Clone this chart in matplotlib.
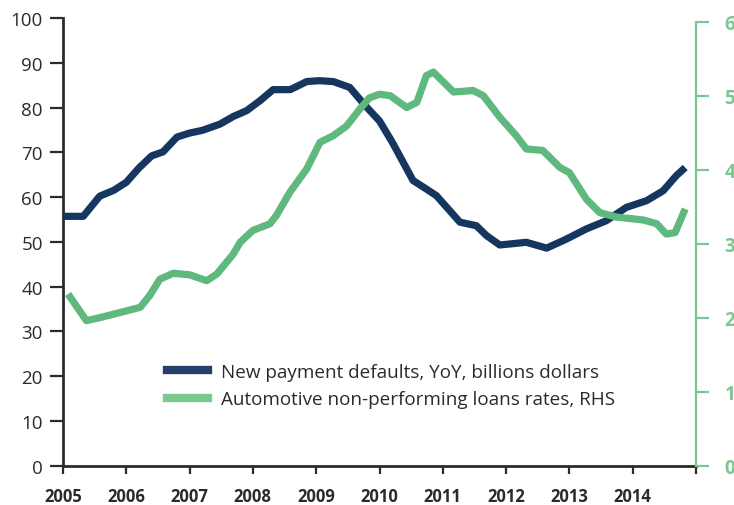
import matplotlib
matplotlib.use("Agg")
import matplotlib.pyplot as plt
from matplotlib.lines import Line2D

plt.rcParams['font.family'] = ['Open Sans', 'DejaVu Sans']

# ---- data ----
navy_x = [2005.00, 2005.32, 2005.58, 2005.80, 2006.00, 2006.20, 2006.40, 2006.58, 2006.80,
          2007.00, 2007.20, 2007.48, 2007.69, 2007.90, 2008.11, 2008.32, 2008.59, 2008.85,
          2009.05, 2009.27, 2009.53, 2009.77, 2010.00, 2010.20, 2010.53, 2010.74, 2010.90,
          2011.27, 2011.53, 2011.69, 2011.90, 2012.32, 2012.64, 2012.95, 2013.27, 2013.58,
          2013.90, 2014.22, 2014.48, 2014.69, 2014.83]
navy_y = [55.7, 55.7, 60.2, 61.5, 63.3, 66.5, 69.2, 70.1, 73.4,
          74.3, 74.9, 76.3, 78.0, 79.3, 81.5, 84.0, 84.0, 85.8,
          86.0, 85.8, 84.5, 80.5, 77.0, 72.3, 63.7, 61.8, 60.3,
          54.4, 53.6, 51.4, 49.3, 49.9, 48.6, 50.6, 52.9, 54.7,
          57.7, 59.2, 61.4, 64.8, 66.6]

green_x = [2005.08, 2005.37, 2005.58, 2005.90, 2006.22, 2006.37, 2006.53, 2006.74, 2007.00,
           2007.27, 2007.43, 2007.69, 2007.80, 2008.00, 2008.27, 2008.37, 2008.58, 2008.85,
           2009.06, 2009.27, 2009.48, 2009.69, 2009.84, 2010.00, 2010.17, 2010.43, 2010.59,
           2010.74, 2010.85, 2011.17, 2011.48, 2011.64, 2011.90, 2012.16, 2012.32, 2012.58,
           2012.85, 2013.00, 2013.27, 2013.48, 2013.74, 2014.17, 2014.38, 2014.53, 2014.67,
           2014.83]
green_y = [2.32, 1.96, 2.00, 2.07, 2.14, 2.30, 2.52, 2.60, 2.58,
           2.50, 2.59, 2.86, 3.02, 3.18, 3.27, 3.38, 3.69, 4.01,
           4.37, 4.46, 4.59, 4.82, 4.97, 5.02, 5.00, 4.84, 4.91,
           5.27, 5.32, 5.05, 5.07, 5.00, 4.71, 4.46, 4.28, 4.26,
           4.03, 3.96, 3.60, 3.42, 3.36, 3.32, 3.27, 3.13, 3.15,
           3.47]

year_ticks = [2005, 2006, 2007, 2008, 2009, 2010, 2011, 2012, 2013, 2014, 2015]
year_labels = ['2005', '2006', '2007', '2008', '2009', '2010', '2011', '2012', '2013', '2014', '']
left_ticks = [0, 10, 20, 30, 40, 50, 60, 70, 80, 90, 100]
right_ticks = [0, 1, 2, 3, 4, 5, 6]

label_navy = 'New payment defaults, YoY, billions dollars'
label_green = 'Automotive non-performing loans rates, RHS'

NAVY = '#14365f'
GREEN = '#5fb97f'
LGREEN = '#7cc68f'
AXC = '#2b2b2b'

fig = plt.figure(figsize=(7.34, 5.06), dpi=100)
ax = fig.add_axes([63/734, 1-466.7/506, (696-63)/734, (466.7-19)/506])
ax2 = ax.twinx()

ax.plot(navy_x, navy_y, color=NAVY, lw=5.2, solid_capstyle='butt', solid_joinstyle='round', zorder=3)
ax2.plot(green_x, green_y, color=GREEN, lw=5.2, solid_capstyle='butt', solid_joinstyle='round', zorder=2)

ax.set_xlim(2005, 2015)
ax.set_ylim(0, 100)
ax2.set_ylim(0, 6 * 447.7 / 444)

for a in (ax, ax2):
    a.spines['top'].set_visible(False)
ax.spines['right'].set_visible(False)
ax2.spines['left'].set_visible(False)
ax2.spines['bottom'].set_visible(False)

ax.spines['left'].set_color(AXC)
ax.spines['left'].set_linewidth(2.0)
ax.spines['bottom'].set_color(AXC)
ax.spines['bottom'].set_linewidth(2.0)
ax2.spines['right'].set_color(LGREEN)
ax2.spines['right'].set_linewidth(1.6)
ax2.spines['right'].set_bounds(0, 6)

ax.set_yticks(left_ticks)
ax.set_yticklabels([str(t) for t in left_ticks])
ax.tick_params(axis='y', direction='out', length=9.5, width=1.6, color=AXC,
               labelsize=13.5, labelcolor=AXC, pad=5)
ax.set_xticks(year_ticks)
ax.set_xticklabels(year_labels, fontweight='bold')
ax.tick_params(axis='x', direction='out', length=6, width=1.6, color=AXC,
               labelsize=12, labelcolor=AXC, pad=9)
ax.xaxis.get_major_ticks()[-1].tick1line.set_color(LGREEN)

ax2.set_yticks(right_ticks)
ax2.set_yticklabels([str(t) for t in right_ticks], fontweight='bold')
ax2.tick_params(axis='y', direction='out', length=9.5, width=1.6, color=LGREEN,
                labelsize=13.5, labelcolor=LGREEN, pad=11)

handles = [Line2D([], [], color='#27406b', lw=6),
           Line2D([], [], color='#7cc68f', lw=6)]
leg = ax.legend(handles, [label_navy, label_green], loc='upper left',
                bbox_to_anchor=((167-63)/633, (466.7-364)/447.7),
                frameon=False, fontsize=13.6, handlelength=2.15, handletextpad=0.72,
                labelspacing=0.5, borderpad=0, borderaxespad=0)
for t in leg.get_texts():
    t.set_color(AXC)

fig.savefig('out.png', dpi=100)
